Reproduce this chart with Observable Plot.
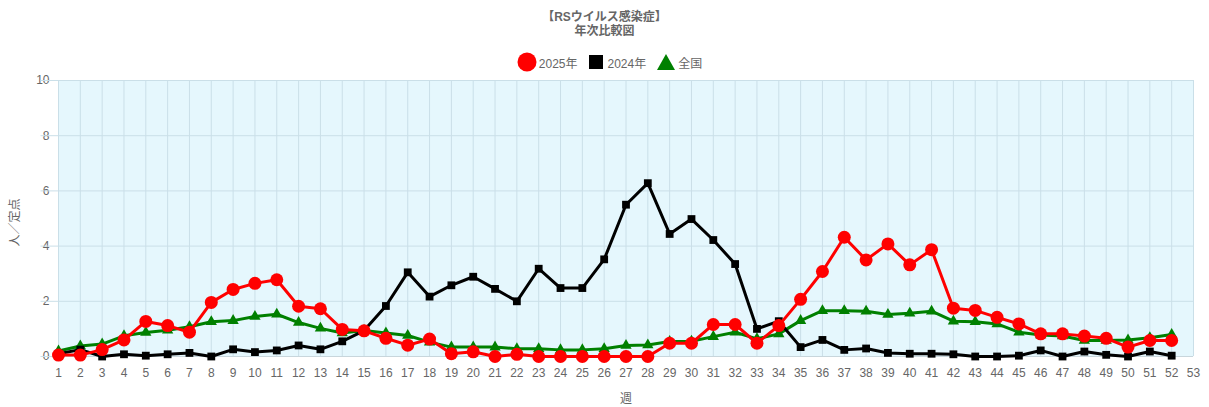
<!DOCTYPE html>
<html><head><meta charset="utf-8">
<script src="https://cdn.jsdelivr.net/npm/d3@7"></script>
<script src="https://cdn.jsdelivr.net/npm/@observablehq/plot@0.6"></script>
<style>
body{margin:0;background:#fff;font-family:"Liberation Sans","Noto Sans CJK JP",sans-serif;}
#hdr{height:65px;position:relative;color:#666;}
#t1{position:absolute;top:7px;width:100%;text-align:center;font-size:12px;font-weight:bold;}
#t2{position:absolute;top:21px;width:100%;text-align:center;font-size:12px;font-weight:bold;}
#lg{position:absolute;top:52px;width:100%;display:flex;justify-content:center;align-items:center;font-size:12px;color:#666;gap:0;padding-left:10px;box-sizing:border-box;}
.it{display:flex;align-items:center;margin:0 5px;}
.it svg{margin-right:2px;}
</style></head><body>
<div id="hdr">
<div id="t1">【RSウイルス感染症】</div>
<div id="t2">年次比較図</div>
<div id="lg">
<span class="it"><svg width="20" height="20"><circle cx="10" cy="10" r="9.5" fill="#ff0000"/></svg>2025年</span>
<span class="it"><svg width="18" height="18"><rect x="2" y="2" width="14" height="14" fill="#000"/></svg>2024年</span>
<span class="it"><svg width="20" height="18"><polygon points="10,1 19,17 1,17" fill="#008000"/></svg>全国</span>
</div>
</div>
<div id="chart"></div>
<script>
const weeks = d3.range(1, 53);
const xTicks = d3.range(1, 54);
const yTicks = [0, 2, 4, 6, 8, 10];
const series = ["2025年", "2024年", "全国"];
const v2025 = [0.05,0.05,0.25,0.6,1.27,1.12,0.88,1.96,2.43,2.65,2.78,1.82,1.73,0.98,0.93,0.66,0.41,0.63,0.1,0.17,0,0.08,0,0,0,0,0,0,0.48,0.48,1.16,1.16,0.48,1.12,2.07,3.08,4.32,3.5,4.08,3.32,3.87,1.75,1.67,1.42,1.18,0.82,0.82,0.74,0.66,0.34,0.58,0.58];
const v2024 = [0.1,0.25,0,0.08,0.03,0.08,0.13,0,0.26,0.16,0.22,0.4,0.26,0.55,0.94,1.83,3.05,2.17,2.58,2.89,2.45,2.0,3.18,2.48,2.48,3.52,5.5,6.28,4.44,4.98,4.22,3.35,1.0,1.28,0.34,0.6,0.24,0.29,0.13,0.1,0.1,0.08,0,0,0.03,0.22,0,0.18,0.06,0,0.18,0.03];
const vNational = [0.2,0.38,0.45,0.75,0.87,0.95,1.08,1.26,1.3,1.45,1.53,1.23,1.02,0.85,0.94,0.85,0.76,0.52,0.34,0.34,0.34,0.28,0.28,0.24,0.24,0.28,0.4,0.42,0.54,0.55,0.72,0.88,0.64,0.82,1.3,1.66,1.66,1.64,1.52,1.57,1.64,1.28,1.26,1.18,0.88,0.78,0.74,0.58,0.58,0.6,0.68,0.8];

const d25 = weeks.map((w,i)=>({w, v:v2025[i]}));
const d24 = weeks.map((w,i)=>({w, v:v2024[i]}));
const dNa = weeks.map((w,i)=>({w, v:vNational[i]}));
const grid = "#cadfe8";

const chart = Plot.plot({
  width: 1209, height: 342,
  marginTop: 15, marginBottom: 51, marginLeft: 58, marginRight: 16,
  style: {fontFamily: '"Liberation Sans","Noto Sans CJK JP",sans-serif', fontSize: "12px", color: "#666", background: "#fff"},
  x: {domain: [1, 53], ticks: xTicks, tickFormat: d => String(d), tickSize: 0, tickPadding: 12, label: null},
  y: {domain: [0, 10], ticks: yTicks, tickSize: 0, tickPadding: 9, label: null},
  marks: [
    Plot.frame({fill: "#e5f7fd", stroke: null}),
    Plot.ruleX(xTicks, {stroke: grid, strokeWidth: 1}),
    Plot.ruleY(yTicks, {stroke: grid, strokeWidth: 1, x1: 0.2, x2: 53}),
    Plot.ruleY([0], {stroke: "#c8d6dc", strokeWidth: 1}),
    Plot.line(dNa, {x: "w", y: "v", stroke: "#008000", strokeWidth: 3}),
    Plot.dot(dNa, {x: "w", y: "v", symbol: "triangle", fill: "#008000", r: 4.2}),
    Plot.line(d24, {x: "w", y: "v", stroke: "#000", strokeWidth: 3}),
    Plot.dot(d24, {x: "w", y: "v", symbol: "square", fill: "#000", r: 4.4}),
    Plot.line(d25, {x: "w", y: "v", stroke: "#ff0000", strokeWidth: 3}),
    Plot.dot(d25, {x: "w", y: "v", symbol: "circle", fill: "#ff0000", r: 6.5}),
    Plot.text(["人／定点"], {frameAnchor: "left", textAnchor: "middle", dx: -43, dy: 4, rotate: -90, fill: "#666", fontSize: 12}),
    Plot.text(["週"], {frameAnchor: "bottom", dy: 46, fill: "#666", fontSize: 12})
  ]
});
document.getElementById("chart").appendChild(chart);
</script>
</body></html>
